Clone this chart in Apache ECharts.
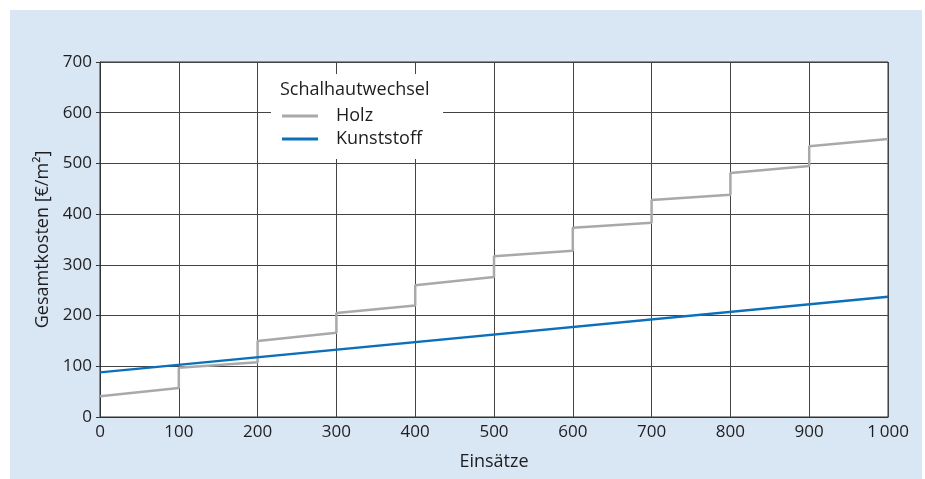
<!DOCTYPE html>
<html>
<head>
<meta charset="utf-8">
<script src="https://cdn.jsdelivr.net/npm/echarts@6/dist/echarts.min.js"></script>
<style>
  html, body { margin: 0; padding: 0; background: #fff; }
  #chart { width: 925px; height: 479px; }
</style>
</head>
<body>
<div id="chart"></div>
<script>
  // Einsätze / Gesamtkosten [€/m²]
  const xTicks = [0, 100, 200, 300, 400, 500, 600, 700, 800, 900, 1000];
  const holzX = [0, 100, 100, 200, 200, 300, 300, 400, 400, 500, 500, 600, 600, 700, 700, 800, 800, 900, 900, 1000];
  const holzY = [41, 57, 97, 108, 150, 166, 205, 220, 260, 276, 317, 328, 373, 383, 428, 438, 481, 495, 534, 548];
  const kunststoffX = [0, 1000];
  const kunststoffY = [88, 237];

  const font = '"Open Sans", "Noto Sans", sans-serif';
  const chart = echarts.init(document.getElementById('chart'));

  chart.setOption({
    animation: false,
    backgroundColor: '#ffffff',
    textStyle: { fontFamily: font },
    graphic: [
      {
        type: 'rect',
        z: -10,
        silent: true,
        shape: { x: 10, y: 10, width: 912, height: 469 },
        style: { fill: '#d9e6f3' },
      },
    ],
    grid: {
      left: 100,
      right: 37,
      top: 62,
      bottom: 62,
      show: true,
      backgroundColor: '#ffffff',
      borderColor: '#333',
      borderWidth: 1,
    },
    title: {
      text: 'Schalhautwechsel',
      left: 280,
      top: 80,
      padding: 0,
      z: 20,
      textStyle: { fontFamily: font, fontSize: 18, fontWeight: 'normal', color: '#1e1e1e', lineHeight: 20 },
    },
    legend: {
      orient: 'vertical',
      left: 271,
      top: 74,
      z: 15,
      backgroundColor: '#ffffff',
      padding: [33, 21, 11, 11],
      itemGap: 5,
      itemWidth: 36,
      itemHeight: 3,
      icon: 'rect',
      textStyle: { fontFamily: font, fontSize: 18, color: '#1e1e1e', lineHeight: 18, padding: [0, 0, 0, 13] },
      data: ['Holz', 'Kunststoff'],
    },
    xAxis: {
      type: 'value',
      min: 0,
      max: 1000,
      interval: 100,
      name: 'Einsätze',
      nameLocation: 'middle',
      nameGap: 36,
      nameTextStyle: { fontFamily: font, fontSize: 18, color: '#1e1e1e' },
      axisLine: { lineStyle: { color: '#333', width: 1 } },
      axisTick: { show: false },
      axisLabel: {
        fontFamily: font,
        fontSize: 17,
        color: '#1e1e1e',
        margin: 7,
        formatter: (v) => (xTicks.includes(v) ? (v === 1000 ? '1\u2009000' : String(v)) : ''),
      },
      splitLine: { show: true, lineStyle: { color: '#444', width: 1 } },
    },
    yAxis: {
      type: 'value',
      min: 0,
      max: 700,
      interval: 100,
      name: 'Gesamtkosten [€/m²]',
      nameLocation: 'middle',
      nameGap: 44,
      nameTextStyle: { fontFamily: font, fontSize: 18, color: '#1e1e1e' },
      axisLine: { lineStyle: { color: '#333', width: 1 } },
      axisTick: { show: true, length: 4, lineStyle: { color: '#333' } },
      axisLabel: { fontFamily: font, fontSize: 17, color: '#1e1e1e', margin: 8 },
      splitLine: { show: true, lineStyle: { color: '#444', width: 1 } },
    },
    series: [
      {
        name: 'Holz',
        type: 'line',
        symbol: 'none',
        color: '#a9a9ab',
        lineStyle: { width: 2.5, color: '#a9a9ab' },
        data: holzX.map((x, i) => [x, holzY[i]]),
        z: 3,
      },
      {
        name: 'Kunststoff',
        type: 'line',
        symbol: 'none',
        color: '#0b70b9',
        lineStyle: { width: 2.5, color: '#0b70b9' },
        data: kunststoffX.map((x, i) => [x, kunststoffY[i]]),
        z: 4,
      },
    ],
  });
</script>
</body>
</html>
